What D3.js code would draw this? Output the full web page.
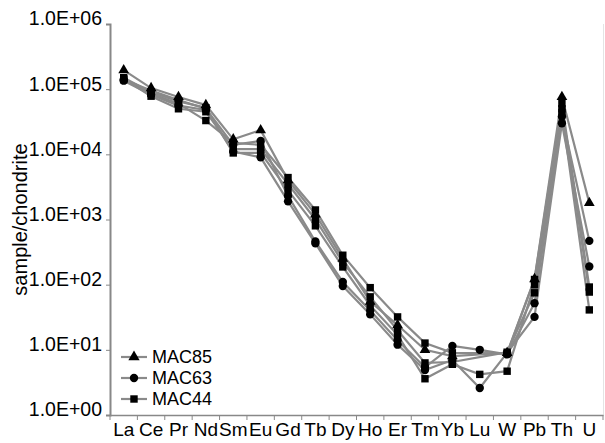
<!DOCTYPE html>
<html>
<head>
<meta charset="utf-8">
<script src="https://cdn.jsdelivr.net/npm/d3@7"></script>
<style>
  body { margin: 0; background: #fff; }
  text { font-family: "Liberation Sans", Arial, sans-serif; fill: #000; }
</style>
</head>
<body>
<svg id="chart"></svg>
<script>
const width = 605;
const height = 443;

// element order along the x axis
const elements = ['La', 'Ce', 'Pr', 'Nd', 'Sm', 'Eu', 'Gd', 'Tb', 'Dy', 'Ho', 'Er', 'Tm', 'Yb', 'Lu', 'W', 'Pb', 'Th', 'U'];

// sample/chondrite values (null = no value, line jumps over)
const mac85 = [196000, 104000, 76000, 57000, 17000, 23500, 4000, 1200, 250, 55, 24, 10, 8, null, 9, 122, 76000, 1800];
const mac63a = [140000, 95000, 68000, 50000, 14000, 16000, 2300, 460, 110, 40, 14, 5.4, 11.5, 10, 8.5, 52, 38000, 470];
const mac63b = [135000, 82000, 56000, 48000, 11000, 9000, 1900, 430, 95, 35, 12, 4.9, 7, 2.6, 9, 32, 30000, 190];
const mac44a = [140000, 86000, 60000, 33000, 15000, 14000, 4400, 1400, 283, 90, 32, 12.7, 9, null, 8.8, 120, 60000, 92];
const mac44b = [145000, 78000, 50000, 45000, 12000, 12000, 3500, 1000, 220, 65, 20, 6.3, 6.5, null, 9.2, 75, 50000, 77];
const mac44c = [150000, 90000, 65000, 52000, 10500, 10500, 2800, 800, 187, 48, 17, 3.6, 6, 4.2, 4.7, 100, 44000, 41];

const yTicks = [1, 10, 100, 1000, 10000, 100000, 1000000];

const legendNames = ['MAC85', 'MAC63', 'MAC44'];
const legendSymbols = [d3.symbolTriangle, d3.symbolCircle, d3.symbolSquare];

const series = [
  {values: mac44a, symbol: d3.symbolSquare},
  {values: mac44b, symbol: d3.symbolSquare},
  {values: mac44c, symbol: d3.symbolSquare},
  {values: mac63a, symbol: d3.symbolCircle},
  {values: mac63b, symbol: d3.symbolCircle},
  {values: mac85, symbol: d3.symbolTriangle}
];

const lineColor = '#8a8a8a';
const axisColor = '#888';

const svg = d3.select('#chart')
  .attr('width', width)
  .attr('height', height);

const plot = {left: 110, right: 603, top: 24, bottom: 415};

// scales
const x = d3.scaleBand().domain(elements).range([plot.left, plot.right]);
const y = d3.scaleLog().domain([1, 1e6]).range([plot.bottom, plot.top]);

// faint right border
svg.append('line')
  .attr('x1', plot.right + 0.5).attr('x2', plot.right + 0.5)
  .attr('y1', plot.top).attr('y2', plot.bottom)
  .attr('stroke', '#e4e4e4');

// y axis
const fmt = (d) => {
  const e = Math.round(Math.log10(d));
  return `1.0E+${String(e).padStart(2, '0')}`;
};
const gy = svg.append('g')
  .attr('transform', `translate(${plot.left},0)`)
  .call(d3.axisLeft(y).tickValues(yTicks).tickFormat(fmt).tickSize(4).tickPadding(4));
gy.select('.domain').attr('stroke', axisColor).attr('stroke-width', 2);
gy.selectAll('.tick line').attr('stroke', axisColor);
gy.selectAll('.tick text').style('font-size', '19.5px').attr('dy', '0.05em');

// x axis
const gx = svg.append('g')
  .attr('transform', `translate(0,${plot.bottom})`)
  .call(d3.axisBottom(x).tickSize(0).tickPadding(8));
gx.select('.domain').attr('stroke', axisColor).attr('stroke-width', 1.5);
gx.selectAll('.tick text').style('font-size', '19px');

// tick marks on the boundaries between categories
const bounds = elements.map((d) => x(d)).concat([x(elements[elements.length - 1]) + x.bandwidth()]);
svg.append('g').selectAll('line').data(bounds).join('line')
  .attr('x1', (d) => d).attr('x2', (d) => d)
  .attr('y1', plot.bottom).attr('y2', plot.bottom + 5)
  .attr('stroke', axisColor);

// axis title
svg.append('text')
  .attr('transform', `translate(27,${(plot.top + plot.bottom) / 2}) rotate(-90)`)
  .attr('text-anchor', 'middle')
  .style('font-size', '20px')
  .text('sample/chondrite');

const cx = (i) => x(elements[i]) + x.bandwidth() / 2;

const line = d3.line()
  .x((d) => cx(d.i))
  .y((d) => y(d.v));

const g = svg.append('g');

series.forEach((s) => {
  const pts = s.values.map((v, i) => ({v, i})).filter((d) => d.v != null);
  g.append('path')
    .datum(pts)
    .attr('d', line)
    .attr('fill', 'none')
    .attr('stroke', lineColor)
    .attr('stroke-width', 2.2);
});

series.forEach((s) => {
  const pts = s.values.map((v, i) => ({v, i})).filter((d) => d.v != null);
  g.selectAll(null).data(pts).join('path')
    .attr('d', d3.symbol().type(s.symbol).size(s.symbol === d3.symbolTriangle ? 50 : 55))
    .attr('transform', (d) => `translate(${cx(d.i)},${y(d.v)})`)
    .attr('fill', '#000');
});

// legend
const legend = svg.append('g').attr('transform', 'translate(121,357)');
legendNames.forEach((name, i) => {
  const row = legend.append('g').attr('transform', `translate(0,${i * 21})`);
  row.append('line')
    .attr('x1', 0).attr('x2', 26)
    .attr('stroke', lineColor).attr('stroke-width', 2.2);
  row.append('path')
    .attr('d', d3.symbol().type(legendSymbols[i]).size(55))
    .attr('transform', 'translate(13,0)')
    .attr('fill', '#000');
  row.append('text')
    .attr('x', 31).attr('dy', '0.35em')
    .style('font-size', '18px')
    .text(name);
});
</script>
</body>
</html>
